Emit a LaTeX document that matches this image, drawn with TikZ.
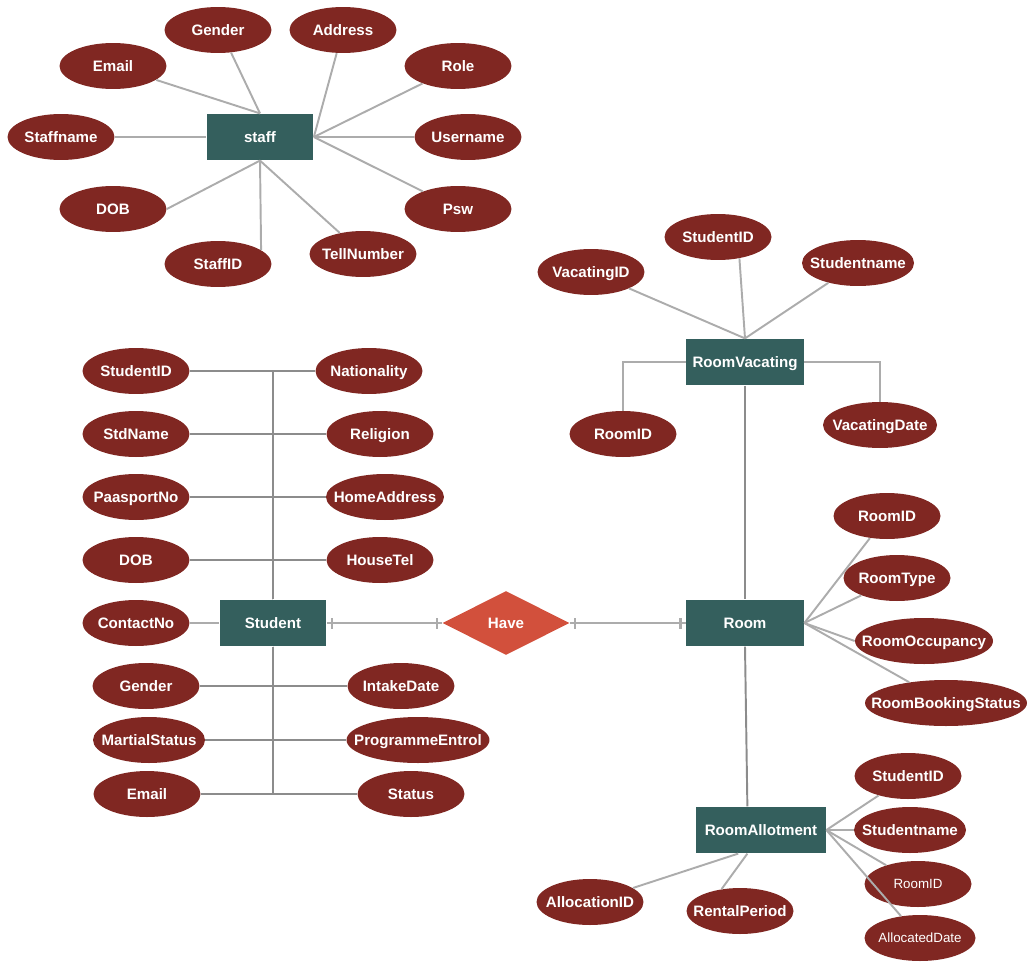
\documentclass[tikz,border=0pt]{standalone}
\usepackage{fontspec}
\setmainfont{Liberation Sans}
\usepackage{tikz}
\usetikzlibrary{shapes.geometric}
\definecolor{attrred}{RGB}{128,39,34}
\definecolor{entteal}{RGB}{52,95,93}
\definecolor{relred}{RGB}{210,80,60}
\definecolor{linegrey}{RGB}{172,172,172}
\definecolor{trunkgrey}{RGB}{140,140,140}
\newcommand{\lbl}[1]{\makebox[0pt]{#1}}
\tikzset{
    attr/.style={ellipse,fill=attrred,text=white,font=\fontsize{8.6}{10}\selectfont\bfseries,
        inner sep=0pt,text height=6.2pt,text depth=0pt,minimum width=2.14cm,minimum height=0.92cm},
    attrthin/.style={attr,font=\fontsize{7.6}{9}\selectfont,text height=5.4pt},
    entity/.style={rectangle,fill=entteal,text=white,font=\fontsize{8.6}{10}\selectfont\bfseries,
        inner sep=0pt,text height=6.2pt,text depth=0pt,minimum width=2.14cm,minimum height=0.93cm},
    rel/.style={diamond,fill=relred,text=white,font=\fontsize{8.6}{10}\selectfont\bfseries,
        inner sep=0pt,text height=6.2pt,text depth=0pt,minimum width=2.54cm,minimum height=1.28cm},
    link/.style={draw=linegrey,line width=1.1pt},
    trunk/.style={draw=trunkgrey,line width=1.1pt},
    onebar/.style={fill=linegrey,inner sep=0pt,minimum width=1.3pt,minimum height=0.22cm}
}

\begin{document}
\begin{tikzpicture}[x=0.02cm,y=-0.02cm]
    \useasboundingbox (0,0) rectangle (1027,963);

    \node[entity] (staff) at (260,137) {\lbl{staff}};
    \node[attr] (sgen) at (218,30) {\lbl{Gender}};
    \node[attr] (saddr) at (343,30) {\lbl{Address}};
    \node[attr] (semail) at (113,66) {\lbl{Email}};
    \node[attr] (srole) at (458,66) {\lbl{Role}};
    \node[attr] (sname) at (61,137) {\lbl{Staffname}};
    \node[attr] (suser) at (468,137) {\lbl{Username}};
    \node[attr] (sdob) at (113,209) {\lbl{DOB}};
    \node[attr] (spsw) at (458,209) {\lbl{Psw}};
    \node[attr] (sid) at (218,264) {\lbl{StaffID}};
    \node[attr] (stell) at (363,254) {\lbl{TellNumber}};

    \draw[link] (staff.north) -- (semail);
    \draw[link] (staff.north) -- (sgen.-60);
    \draw[link] (staff.east) -- (saddr);
    \draw[link] (staff.east) -- (srole);
    \draw[link] (staff.east) -- (suser);
    \draw[link] (staff.east) -- (spsw);
    \draw[link] (staff.south) -- (stell);
    \draw[link] (staff.south) -- (sid.18);
    \draw[link] (staff.south) -- (sdob.east);
    \draw[link] (staff.west) -- (sname.east);

    \node[entity] (student) at (273,623) {\lbl{Student}};
    \node[attr] (stdid) at (136,371) {\lbl{StudentID}};
    \node[attr] (stdname) at (136,434) {\lbl{StdName}};
    \node[attr] (stdpass) at (136,497) {\lbl{PaasportNo}};
    \node[attr] (stddob) at (136,560) {\lbl{DOB}};
    \node[attr] (stdcontact) at (136,623) {\lbl{ContactNo}};
    \node[attr] (stdgender) at (146,686) {\lbl{Gender}};
    \node[attr,minimum width=2.24cm] (stdmarital) at (149,740) {\lbl{MartialStatus}};
    \node[attr] (stdemail) at (147,794) {\lbl{Email}};
    \node[attr] (stdnat) at (369,371) {\lbl{Nationality}};
    \node[attr] (stdrel) at (380,434) {\lbl{Religion}};
    \node[attr,minimum width=2.36cm] (stdhome) at (385,497) {\lbl{HomeAddress}};
    \node[attr] (stdtel) at (380,560) {\lbl{HouseTel}};
    \node[attr] (stdintake) at (401,686) {\lbl{IntakeDate}};
    \node[attr,minimum width=2.86cm] (stdprog) at (418,740) {\lbl{ProgrammeEntrol}};
    \node[attr] (stdstatus) at (411,794) {\lbl{Status}};

    \draw[trunk] (student.north) |- (stdid.east);
    \draw[trunk] (student.north) |- (stdname.east);
    \draw[trunk] (student.north) |- (stdpass.east);
    \draw[trunk] (student.north) |- (stddob.east);
    \draw[trunk] (student.north) |- (stdnat.west);
    \draw[trunk] (student.north) |- (stdrel.west);
    \draw[trunk] (student.north) |- (stdhome.west);
    \draw[trunk] (student.north) |- (stdtel.west);
    \draw[link] (student.west) -- (stdcontact.east);
    \draw[trunk] (student.south) |- (stdgender.east);
    \draw[trunk] (student.south) |- (stdmarital.east);
    \draw[trunk] (student.south) |- (stdemail.east);
    \draw[trunk] (student.south) |- (stdintake.west);
    \draw[trunk] (student.south) |- (stdprog.west);
    \draw[trunk] (student.south) |- (stdstatus.west);

    \node[rel] (have) at (506,623) {\lbl{Have}};
    \node[entity,minimum width=2.36cm] (room) at (745,623) {\lbl{Room}};

    \draw[link] (student.east) -- (have.west) node[onebar,pos=0.045] (bara) {} node[onebar,pos=0.955] (barb) {};
    \draw[link] (have.east) -- (room.west) node[onebar,pos=0.045] (barc) {} node[onebar,pos=0.955] (bard) {};

    \node[attr] (rid) at (887,516) {\lbl{RoomID}};
    \node[attr] (rtype) at (897,578) {\lbl{RoomType}};
    \node[attr,minimum width=2.76cm] (rocc) at (924,641) {\lbl{RoomOccupancy}};
    \node[attr,minimum width=3.24cm] (rbook) at (946,703) {\lbl{RoomBookingStatus}};

    \draw[link] (room.east) -- (rid);
    \draw[link] (room.east) -- (rtype);
    \draw[link] (room.east) -- (rocc.west);
    \draw[link] (room.east) -- (rbook);

    \node[entity,minimum width=2.36cm] (vac) at (745,362) {\lbl{RoomVacating}};
    \node[attr] (vacid) at (591,272) {\lbl{VacatingID}};
    \node[attr] (vsid) at (718,237) {\lbl{StudentID}};
    \node[attr,minimum width=2.24cm] (vsname) at (858,263) {\lbl{Studentname}};
    \node[attr] (vroom) at (623,434) {\lbl{RoomID}};
    \node[attr,minimum width=2.28cm] (vdate) at (880,425) {\lbl{VacatingDate}};

    \draw[link] (vac.north) -- (vacid);
    \draw[link] (vac.north) -- (vsid.-45);
    \draw[link] (vac.north) -- (vsname);
    \draw[link] (vac.west) -| (vroom.north);
    \draw[link] (vac.east) -| (vdate.north);
    \draw[trunk] (vac.south) -- (room.north);

    \node[entity,minimum width=2.6cm] (allot) at (761,830) {\lbl{RoomAllotment}};
    \node[attr] (asid) at (908,776) {\lbl{StudentID}};
    \node[attr,minimum width=2.24cm] (asname) at (910,830) {\lbl{Studentname}};
    \node[attrthin] (aroom) at (918,884) {\lbl{RoomID}};
    \node[attrthin,minimum width=2.22cm] (adate) at (920,938) {\lbl{AllocatedDate}};
    \node[attr] (aalloc) at (590,902) {\lbl{AllocationID}};
    \node[attr] (arent) at (740,911) {\lbl{RentalPeriod}};

    \draw[trunk] (room.south) -- (allot.120);
    \draw[link] (allot.east) -- (asid);
    \draw[link] (allot.east) -- (asname);
    \draw[link] (allot.east) -- (aroom);
    \draw[link] (allot.east) -- (adate);
    \draw[link] (allot.-134) -- (aalloc);
    \draw[link] (allot.-120) -- (arent.130);
\end{tikzpicture}
\end{document}
